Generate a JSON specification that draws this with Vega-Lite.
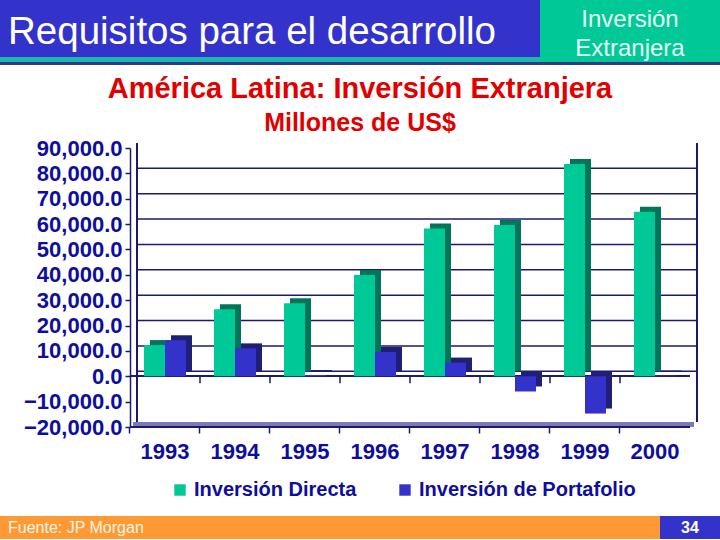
{
  "$schema": "https://vega.github.io/schema/vega-lite/v6.json",
  "background": "white",
  "padding": 0,
  "spacing": 10,
  "config": {
    "view": {"stroke": null},
    "font": "Liberation Sans",
    "axisY": {"labelFontSize": 22, "labelFontWeight": "bold", "labelColor": "#0D0D9E", "labelFont": "Liberation Sans", "tickSize": 5, "tickColor": "#1A1A70", "tickWidth": 1.5, "domainColor": "#1A1A70", "domainWidth": 1.5, "labelPadding": 3, "grid": false, "labelOverlap": false},
    "axisX": {"domain": false, "labelAngle": 0, "labelFontSize": 22, "labelFontWeight": "bold", "labelColor": "#0D0D9E", "labelFont": "Liberation Sans", "tickSize": 6, "tickColor": "#1A1A70", "tickWidth": 1.5, "labelPadding": 8, "grid": false}
  },
  "resolve": {"legend": {"color": "independent"}},
  "datasets": {
    "inv": [
      {"year": "1993", "serie": "Inversión Directa", "valor": 12300},
      {"year": "1994", "serie": "Inversión Directa", "valor": 26400},
      {"year": "1995", "serie": "Inversión Directa", "valor": 28800},
      {"year": "1996", "serie": "Inversión Directa", "valor": 39900},
      {"year": "1997", "serie": "Inversión Directa", "valor": 58300},
      {"year": "1998", "serie": "Inversión Directa", "valor": 59600},
      {"year": "1999", "serie": "Inversión Directa", "valor": 83700},
      {"year": "2000", "serie": "Inversión Directa", "valor": 64900},
      {"year": "1993", "serie": "Inversión de Portafolio", "valor": 14200},
      {"year": "1994", "serie": "Inversión de Portafolio", "valor": 11000},
      {"year": "1995", "serie": "Inversión de Portafolio", "valor": 500},
      {"year": "1996", "serie": "Inversión de Portafolio", "valor": 9600},
      {"year": "1997", "serie": "Inversión de Portafolio", "valor": 5400},
      {"year": "1998", "serie": "Inversión de Portafolio", "valor": -6000},
      {"year": "1999", "serie": "Inversión de Portafolio", "valor": -14700},
      {"year": "2000", "serie": "Inversión de Portafolio", "valor": 300}
    ],
    "grid": [
      {"g": 0}, {"g": 10000}, {"g": 20000}, {"g": 30000}, {"g": 40000},
      {"g": 50000}, {"g": 60000}, {"g": 70000}, {"g": 80000}
    ],
    "one": [{}]
  },
  "vconcat": [
    {
      "spacing": 0,
      "vconcat": [
        {
          "spacing": 0,
          "hconcat": [
            {
              "spacing": 0,
              "vconcat": [
                {
                  "width": 540, "height": 57,
                  "view": {"fill": "#3333CC", "stroke": null},
                  "data": {"name": "one"},
                  "mark": {"type": "text", "text": "Requisitos para el desarrollo", "align": "left", "baseline": "middle", "dx": -262, "dy": 3, "fontSize": 38.5, "color": "#FFFFFF", "font": "Liberation Sans"}
                },
                {
                  "width": 540, "height": 5,
                  "data": {"name": "one"},
                  "mark": {"type": "rect", "color": "#1CB8AE"}
                }
              ]
            },
            {
              "width": 180, "height": 62,
              "view": {"fill": "#00C896", "stroke": null},
              "data": {"name": "one"},
              "mark": {"type": "text", "text": ["Inversión", "Extranjera"], "align": "center", "baseline": "middle", "dy": -11, "fontSize": 24, "lineHeight": 29, "color": "#E6FFF5", "font": "Liberation Sans"}
            }
          ]
        },
        {
          "width": 720, "height": 3,
          "data": {"name": "one"},
          "mark": {"type": "rect", "color": "#2B3A8C"}
        }
      ]
    },
    {
      "width": 700, "height": 279,
      "title": {
        "text": "América Latina: Inversión Extranjera",
        "subtitle": "Millones de US$",
        "color": "#E00000", "subtitleColor": "#E00000",
        "font": "Liberation Sans", "subtitleFont": "Liberation Sans",
        "fontSize": 29, "subtitleFontSize": 25,
        "fontWeight": "bold", "subtitleFontWeight": "bold",
        "anchor": "middle", "frame": "group", "dx": 10,
        "offset": 1, "subtitlePadding": 7
      },
      "data": {"name": "inv"},
      "layer": [
        {
          "data": {"name": "grid"},
          "mark": {"type": "rule", "color": "#1A1A70", "strokeWidth": 1.5, "xOffset": -28, "x2Offset": 42, "yOffset": -5},
          "encoding": {
            "x": {"datum": "1993", "type": "nominal",
              "scale": {"paddingInner": 0, "paddingOuter": 1, "align": 0.928571},
              "axis": {"title": null, "bandPosition": 0}},
            "x2": {"datum": "2000"},
            "y": {"field": "g", "type": "quantitative", "scale": {"domain": [-20000, 90000], "nice": false},
              "axis": {"title": null, "offset": -130, "values": [-20000, -10000, 0, 10000, 20000, 30000, 40000, 50000, 60000, 70000, 80000, 90000], "format": ",.1f", "labelOverlap": false}}
          }
        },
        {
          "mark": {"type": "rule", "color": "#1A1A70", "strokeWidth": 1.5, "xOffset": -28, "yOffset": -5, "y2Offset": -5},
          "encoding": {
            "x": {"datum": "1993", "type": "nominal"},
            "y": {"datum": 90000, "type": "quantitative",
              "axis": {"title": null, "offset": -130, "values": [-20000, -10000, 0, 10000, 20000, 30000, 40000, 50000, 60000, 70000, 80000, 90000], "format": ",.1f", "labelOverlap": false}},
            "y2": {"datum": -20000}
          }
        },
        {
          "mark": {"type": "rule", "color": "#1A1A70", "strokeWidth": 1.5, "xOffset": 42, "yOffset": -5, "y2Offset": -5},
          "encoding": {
            "x": {"datum": "2000", "type": "nominal"},
            "y": {"datum": 90000, "type": "quantitative",
              "axis": {"title": null, "offset": -130, "values": [-20000, -10000, 0, 10000, 20000, 30000, 40000, 50000, 60000, 70000, 80000, 90000], "format": ",.1f", "labelOverlap": false}},
            "y2": {"datum": -20000}
          }
        },
        {
          "mark": {"type": "rule", "color": "#7A7AB8", "strokeWidth": 5, "yOffset": -2.5, "xOffset": -31.5, "x2Offset": 38.5},
          "encoding": {
            "x": {"datum": "1993", "type": "nominal"},
            "x2": {"datum": "2000"},
            "y": {"datum": -20000, "type": "quantitative",
              "axis": {"title": null, "offset": -130, "values": [-20000, -10000, 0, 10000, 20000, 30000, 40000, 50000, 60000, 70000, 80000, 90000], "format": ",.1f", "labelOverlap": false}}
          }
        },
        {
          "mark": {"type": "rule", "color": "#1A1A70", "strokeWidth": 1.5, "xOffset": -35, "x2Offset": 35},
          "encoding": {
            "x": {"datum": "1993", "type": "nominal"},
            "x2": {"datum": "2000"},
            "y": {"datum": -20000, "type": "quantitative",
              "axis": {"title": null, "offset": -130, "values": [-20000, -10000, 0, 10000, 20000, 30000, 40000, 50000, 60000, 70000, 80000, 90000], "format": ",.1f", "labelOverlap": false}}
          }
        },
        {
          "mark": {"type": "rule", "color": "#1A1A70", "strokeWidth": 1.5, "xOffset": -35, "x2Offset": 35},
          "encoding": {
            "x": {"datum": "1993", "type": "nominal"},
            "x2": {"datum": "2000"},
            "y": {"datum": 0, "type": "quantitative",
              "axis": {"title": null, "offset": -130, "values": [-20000, -10000, 0, 10000, 20000, 30000, 40000, 50000, 60000, 70000, 80000, 90000], "format": ",.1f", "labelOverlap": false}}
          }
        },
        {
          "transform": [{"filter": "datum.serie === 'Inversión Directa' && datum.year !== '1993'"}],
          "mark": {"type": "rule", "color": "#1A1A70", "strokeWidth": 1.5, "y2Offset": 7},
          "encoding": {
            "x": {"field": "year", "type": "nominal", "bandPosition": 0},
            "y": {"datum": 0, "type": "quantitative",
              "axis": {"title": null, "offset": -130, "values": [-20000, -10000, 0, 10000, 20000, 30000, 40000, 50000, 60000, 70000, 80000, 90000], "format": ",.1f", "labelOverlap": false}},
            "y2": {"datum": 0}
          }
        },
        {
          "transform": [{"filter": "datum.serie === 'Inversión Directa'"}],
          "mark": {"type": "bar", "width": 21, "xOffset": -4.5, "yOffset": -5, "y2Offset": -5, "color": "#00755A"},
          "encoding": {
            "x": {"field": "year", "type": "nominal"},
            "y": {"field": "valor", "type": "quantitative",
              "axis": {"title": null, "offset": -130, "values": [-20000, -10000, 0, 10000, 20000, 30000, 40000, 50000, 60000, 70000, 80000, 90000], "format": ",.1f", "labelOverlap": false}}
          }
        },
        {
          "transform": [{"filter": "datum.serie === 'Inversión Directa'"}],
          "mark": {"type": "bar", "width": 21, "xOffset": -10.5},
          "encoding": {
            "x": {"field": "year", "type": "nominal"},
            "y": {"field": "valor", "type": "quantitative",
              "axis": {"title": null, "offset": -130, "values": [-20000, -10000, 0, 10000, 20000, 30000, 40000, 50000, 60000, 70000, 80000, 90000], "format": ",.1f", "labelOverlap": false}},
            "color": {"field": "serie", "type": "nominal",
              "scale": {"domain": ["Inversión Directa", "Inversión de Portafolio"], "range": ["#00C896", "#3333CC"]},
              "legend": {"title": null, "orient": "none", "legendX": 164, "legendY": 326, "padding": 6, "direction": "horizontal", "symbolType": "square", "symbolSize": 130, "symbolStrokeWidth": 0, "labelFontSize": 20, "labelFontWeight": "bold", "labelColor": "#0D0D9E", "labelFont": "Liberation Sans", "labelLimit": 400, "columnPadding": 38, "labelOffset": 4}}
          }
        },
        {
          "transform": [{"filter": "datum.serie === 'Inversión de Portafolio'"}],
          "mark": {"type": "bar", "width": 21, "xOffset": 16.5, "yOffset": -5, "y2Offset": -5, "color": "#1F1F75"},
          "encoding": {
            "x": {"field": "year", "type": "nominal"},
            "y": {"field": "valor", "type": "quantitative",
              "axis": {"title": null, "offset": -130, "values": [-20000, -10000, 0, 10000, 20000, 30000, 40000, 50000, 60000, 70000, 80000, 90000], "format": ",.1f", "labelOverlap": false}}
          }
        },
        {
          "transform": [{"filter": "datum.serie === 'Inversión de Portafolio'"}],
          "mark": {"type": "bar", "width": 21, "xOffset": 10.5},
          "encoding": {
            "x": {"field": "year", "type": "nominal"},
            "y": {"field": "valor", "type": "quantitative",
              "axis": {"title": null, "offset": -130, "values": [-20000, -10000, 0, 10000, 20000, 30000, 40000, 50000, 60000, 70000, 80000, 90000], "format": ",.1f", "labelOverlap": false}},
            "color": {"field": "serie", "type": "nominal"}
          }
        }
      ]
    },
    {
      "spacing": 0,
      "hconcat": [
        {
          "width": 660, "height": 23,
          "view": {"fill": "#FF9933", "stroke": null},
          "data": {"name": "one"},
          "mark": {"type": "text", "text": "Fuente: JP Morgan", "align": "left", "baseline": "middle", "dx": -322, "fontSize": 16, "color": "#FFF5E6", "font": "Liberation Sans"}
        },
        {
          "width": 60, "height": 23,
          "view": {"fill": "#3333CC", "stroke": null},
          "data": {"name": "one"},
          "mark": {"type": "text", "text": "34", "align": "center", "baseline": "middle", "fontSize": 16, "fontWeight": "bold", "color": "#FFFFFF", "font": "Liberation Sans"}
        }
      ]
    }
  ]
}
